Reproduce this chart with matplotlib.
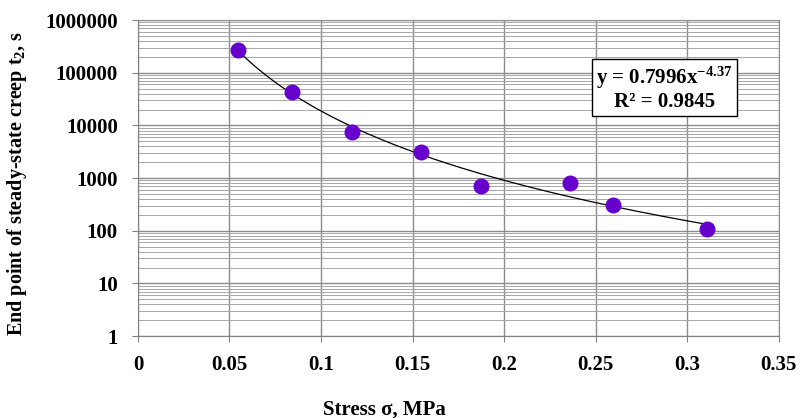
import matplotlib.pyplot as plt
from matplotlib.ticker import LogLocator, FixedLocator, FuncFormatter
import numpy as np

# Stress (MPa) vs end point of steady-state creep (s)
stress = [0.0546, 0.0841, 0.1168, 0.1545, 0.1873, 0.2359, 0.2594, 0.311]
t2 = [269000, 43000, 7470, 3110, 705, 804, 307, 108]

# power trend line y = a * x^b
fit_a = 0.7996
fit_b = -4.37

GRID_COLOR = "#a6a6a6"
POINT_COLOR = "#6600cc"

plt.rcParams["font.family"] = ["Liberation Serif", "DejaVu Serif"]
plt.rcParams["font.weight"] = "bold"
plt.rcParams["mathtext.fontset"] = "custom"
plt.rcParams["mathtext.rm"] = "Liberation Serif:bold"
plt.rcParams["mathtext.bf"] = "Liberation Serif:bold"
plt.rcParams["mathtext.it"] = "Liberation Serif:bold"

fig = plt.figure(figsize=(8.02, 4.18), dpi=100, facecolor="white")
ax = fig.add_axes([0.172, 0.196, 0.799, 0.756])

xs = np.linspace(min(stress), max(stress), 200)
ax.plot(xs, fit_a * xs ** fit_b, color="black", linewidth=0.9, zorder=3)
ax.scatter(stress, t2, s=110, color=POINT_COLOR, edgecolor=POINT_COLOR, zorder=4)

ax.set_yscale("log")
ax.set_xlim(0, 0.35)
ax.set_ylim(1, 1e6)

ax.xaxis.set_major_locator(FixedLocator([0, 0.05, 0.1, 0.15, 0.2, 0.25, 0.3, 0.35]))
ax.xaxis.set_major_formatter(FuncFormatter(lambda v, p: f"{v:g}"))
ax.yaxis.set_major_locator(LogLocator(base=10, numticks=10))
ax.yaxis.set_minor_locator(LogLocator(base=10, subs=np.arange(2, 10), numticks=10))
ax.yaxis.set_major_formatter(FuncFormatter(lambda v, p: f"{int(round(v))}"))

ax.grid(True, which="major", color="#8c8c8c", linewidth=1.0)
ax.grid(True, which="minor", axis="y", color=GRID_COLOR, linewidth=0.7)
ax.set_axisbelow(True)

for side in ["top", "right"]:
    ax.spines[side].set_color("#8c8c8c")
for side in ["left", "bottom"]:
    ax.spines[side].set_color("#808080")

ax.tick_params(which="major", direction="out", length=4.5, color="#808080",
               labelsize=15)
ax.tick_params(axis="y", pad=10)
ax.tick_params(axis="x", pad=9)
ax.tick_params(which="minor", length=0)
for lbl in ax.get_xticklabels() + ax.get_yticklabels():
    lbl.set_fontweight("bold")

ax.set_xlabel("Stress σ, MPa", fontsize=15, fontweight="bold")
ax.xaxis.set_label_coords(0.384, -0.2)
ax.set_ylabel("End point of steady-state creep t$_{2}$, s",
              fontsize=14.5, fontweight="bold")
ax.yaxis.set_label_coords(-0.17, 0.484)

ax.text(0.822, 0.783, "y = 0.7996x$^{-4.37}$\nR² = 0.9845",
        transform=ax.transAxes, ha="center", va="center", fontsize=15,
        fontweight="bold", linespacing=1.05, zorder=5,
        bbox=dict(boxstyle="square,pad=0.2", facecolor="white",
                  edgecolor="black", linewidth=1.0))

fig.savefig("out.png", dpi=100)
